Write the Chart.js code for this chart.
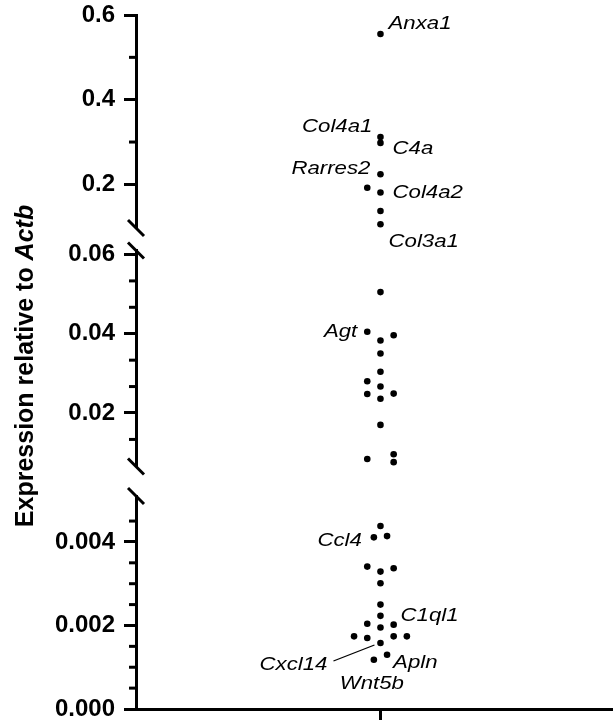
<!DOCTYPE html>
<html>
<head>
<meta charset="utf-8">
<script src="https://cdn.jsdelivr.net/npm/chart.js@4.4.1/dist/chart.umd.min.js"></script>
<style>
  html, body { margin: 0; padding: 0; background: #fff; }
  #wrap { width: 616px; height: 720px; }
</style>
</head>
<body>
<div id="wrap"><canvas id="exprChart" width="616" height="720"></canvas></div>
<script>
// --- data: expression relative to Actb, one set per axis segment ---
// slot = sideways position inside the scatter column (in dot widths)
const upperValues = [0.555, 0.312, 0.298, 0.224, 0.192, 0.181, 0.137, 0.106];
const upperSlots  = [0, 0, 0, 0, -1, 0, 0, 0];
const upperGenes  = ['Anxa1', 'Col4a1', 'C4a', 'Rarres2', '', 'Col4a2', '', 'Col3a1'];

const middleValues = [0.0505, 0.0405, 0.0396, 0.0383, 0.035, 0.0304, 0.028, 0.0267,
                      0.0248, 0.0249, 0.0236, 0.017, 0.0084, 0.0096, 0.0076];
const middleSlots  = [0, -1, 1, 0, 0, 0, -1, 0, -1, 1, 0, 0, -1, 1, 1];
const middleGenes  = ['', 'Agt', '', '', '', '', '', '', '', '', '', '', '', '', ''];

const lowerValues = [0.00438, 0.00411, 0.00414, 0.00341, 0.00329, 0.00337, 0.00301, 0.0025,
                     0.00223, 0.00204, 0.00202, 0.00195, 0.00174, 0.0017, 0.00174, 0.00174,
                     0.00158, 0.0013, 0.00118];
const lowerSlots  = [0, -0.5, 0.5, -1, 0, 1, 0, 0, 0, -1, 1, 0, -2, -1, 1, 2, 0, 0.5, -0.5];
const lowerGenes  = ['', 'Ccl4', '', '', '', '', '', '', 'C1ql1', '', '', '', '', '', '', '',
                     'Cxcl14', 'Apln', 'Wnt5b'];

// axis segments (broken y axis)
const upperRange = [0.097, 0.6];
const upperTicks = [0.2, 0.4, 0.6];
const upperMinor = [0.3, 0.5];
const middleRange = [0.0065, 0.061];
const middleTicks = [0.02, 0.04, 0.06];
const middleMinor = [0.01333, 0.02667, 0.03333, 0.04667, 0.05333];
const lowerRange = [0, 0.0051];
const lowerTicks = [0, 0.002, 0.004];
const lowerMinor = [0.0005, 0.001, 0.0015, 0.0025, 0.003, 0.0035, 0.0045];

const FONT = "'Liberation Sans', Arial, sans-serif";
const COLUMN_X = 1;
const SLOT_STEP = 0.054;
const AXIS_W = 136;

// where each gene name sits relative to its dot
const labelPlacement = {
  Anxa1:   { dx: 8,   dy: -5, align: 'left' },
  Col4a1:  { dx: -8,  dy: -5, align: 'right' },
  C4a:     { dx: 12,  dy: 11, align: 'left' },
  Rarres2: { dx: -10, dy: 0,  align: 'right' },
  Col4a2:  { dx: 12,  dy: 6,  align: 'left' },
  Col3a1:  { dx: 8,   dy: 23, align: 'left' },
  Agt:     { dx: -10, dy: 5,  align: 'right' },
  Ccl4:    { dx: -12, dy: 9,  align: 'right' },
  C1ql1:   { dx: 20,  dy: 5,  align: 'left' },
  Cxcl14:  { dx: -53, dy: 27, align: 'right', line: [-47, 18, -6, 2] },
  Apln:    { dx: 6,   dy: 13, align: 'left' },
  Wnt5b:   { dx: -2,  dy: 29, align: 'center' }
};

function toPoints(values, slots) {
  return values.map((v, i) => ({ x: COLUMN_X + slots[i] * SLOT_STEP, y: v }));
}

function segmentAxis(range, ticks, decimals, weight, stackWeight) {
  return {
    type: 'linear',
    position: 'left',
    stack: 'y',
    stackWeight: stackWeight,
    weight: weight,
    min: range[0],
    max: range[1],
    border: { display: true, width: 3, color: '#000' },
    grid: { drawOnChartArea: false, drawTicks: true, tickLength: 12, tickWidth: 3, tickColor: '#000' },
    ticks: {
      color: '#000',
      padding: 9,
      font: { family: FONT, size: 24, weight: 'bold' },
      callback: v => Number(v).toFixed(decimals)
    },
    afterBuildTicks: axis => { axis.ticks = ticks.map(v => ({ value: v })); },
    afterFit: axis => { axis.width = AXIS_W; axis.paddingTop = 0; axis.paddingBottom = 0; }
  };
}

function gapAxis(weight, stackWeight) {
  return {
    type: 'linear', position: 'left', stack: 'y',
    stackWeight: stackWeight, weight: weight, display: false,
    afterFit: axis => { axis.width = 0; }
  };
}

const brokenAxisPlugin = {
  id: 'brokenAxis',
  afterDraw(chart) {
    const ctx = chart.ctx;
    const left = chart.chartArea.left;
    const s = chart.scales;
    ctx.save();
    ctx.strokeStyle = '#000';
    ctx.lineWidth = 3;

    // minor ticks
    [['yUpper', upperMinor], ['yMiddle', middleMinor], ['yLower', lowerMinor]].forEach(([id, list]) => {
      list.forEach(v => {
        const y = s[id].getPixelForValue(v);
        ctx.beginPath();
        ctx.moveTo(left - 7, y);
        ctx.lineTo(left, y);
        ctx.stroke();
      });
    });

    // break marks at the segment ends
    [s.yUpper.bottom, s.yMiddle.top, s.yMiddle.bottom, s.yLower.top].forEach(y => {
      ctx.beginPath();
      ctx.moveTo(left - 8, y - 8);
      ctx.lineTo(left + 8, y + 8);
      ctx.stroke();
    });

    // gene names
    ctx.fillStyle = '#000';
    ctx.font = 'italic 19px ' + FONT;
    ctx.textBaseline = 'alphabetic';
    const sets = [upperGenes, middleGenes, lowerGenes];
    sets.forEach((genes, di) => {
      const meta = chart.getDatasetMeta(di);
      genes.forEach((g, i) => {
        if (!g) return;
        const p = labelPlacement[g];
        const el = meta.data[i];
        if (p.line) {
          ctx.lineWidth = 1.3;
          ctx.beginPath();
          ctx.moveTo(el.x + p.line[0], el.y + p.line[1]);
          ctx.lineTo(el.x + p.line[2], el.y + p.line[3]);
          ctx.stroke();
        }
        ctx.save();
        ctx.translate(el.x + p.dx, el.y + p.dy);
        ctx.scale(1.17, 1);
        ctx.textAlign = p.align;
        ctx.fillText(g, 0, 0);
        ctx.restore();
      });
    });

    // y title, with the gene name in italics
    const head = 'Expression relative to ';
    const tail = 'Actb';
    ctx.translate(33, 366);
    ctx.rotate(-Math.PI / 2);
    ctx.font = 'bold 25px ' + FONT;
    const w1 = ctx.measureText(head).width;
    ctx.font = 'italic bold 25px ' + FONT;
    const w2 = ctx.measureText(tail).width;
    const x0 = -(w1 + w2) / 2;
    ctx.textAlign = 'left';
    ctx.font = 'bold 25px ' + FONT;
    ctx.fillText(head, x0, 0);
    ctx.font = 'italic bold 25px ' + FONT;
    ctx.fillText(tail, x0 + w1, 0);
    ctx.restore();
  }
};

const dotStyle = { pointRadius: 3.3, pointHoverRadius: 3.3, pointBackgroundColor: '#000', pointBorderWidth: 0 };

new Chart(document.getElementById('exprChart'), {
  type: 'scatter',
  data: {
    datasets: [
      Object.assign({ data: toPoints(upperValues, upperSlots), yAxisID: 'yUpper' }, dotStyle),
      Object.assign({ data: toPoints(middleValues, middleSlots), yAxisID: 'yMiddle' }, dotStyle),
      Object.assign({ data: toPoints(lowerValues, lowerSlots), yAxisID: 'yLower' }, dotStyle)
    ]
  },
  options: {
    responsive: false,
    animation: false,
    layout: { padding: { top: 15, left: 0, right: 0, bottom: 0 } },
    plugins: { legend: { display: false }, tooltip: { enabled: false } },
    scales: {
      x: {
        type: 'linear',
        position: 'bottom',
        min: 0,
        max: 1.95,
        border: { display: true, width: 3, color: '#000' },
        grid: { drawOnChartArea: false, drawTicks: true, tickLength: 11, tickWidth: 3, tickColor: '#000' },
        ticks: { display: false },
        afterBuildTicks: axis => { axis.ticks = [{ value: COLUMN_X }]; }
      },
      yUpper: segmentAxis(upperRange, upperTicks, 1, 5, 213),
      gapA: gapAxis(4, 22.5),
      yMiddle: segmentAxis(middleRange, middleTicks, 2, 3, 216),
      gapB: gapAxis(2, 29.5),
      yLower: segmentAxis(lowerRange, lowerTicks, 3, 1, 213)
    }
  },
  plugins: [brokenAxisPlugin]
});
</script>
</body>
</html>
